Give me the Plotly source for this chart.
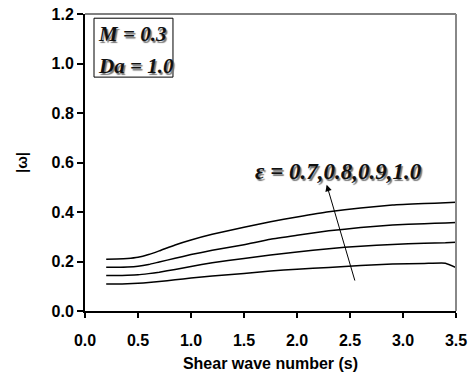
import plotly.graph_objects as go

x_vals = [0.2, 0.3, 0.4, 0.5, 0.6, 0.7, 0.85, 1.0, 1.2, 1.5, 1.75, 2.0, 2.3, 2.6, 2.9, 3.2, 3.4, 3.5]
eps_10 = [0.209, 0.210, 0.212, 0.217, 0.228, 0.243, 0.267, 0.287, 0.310, 0.338, 0.361, 0.380, 0.401, 0.416, 0.428, 0.434, 0.437, 0.439]
eps_09 = [0.177, 0.177, 0.178, 0.181, 0.188, 0.198, 0.213, 0.228, 0.245, 0.268, 0.290, 0.306, 0.324, 0.337, 0.347, 0.353, 0.356, 0.358]
eps_08 = [0.143, 0.143, 0.144, 0.146, 0.151, 0.157, 0.168, 0.180, 0.195, 0.212, 0.226, 0.238, 0.252, 0.262, 0.269, 0.274, 0.276, 0.278]
eps_07 = [0.109, 0.109, 0.110, 0.112, 0.115, 0.119, 0.126, 0.133, 0.141, 0.152, 0.162, 0.169, 0.176, 0.184, 0.190, 0.192, 0.193, 0.175]

x_ticks = [0.0, 0.5, 1.0, 1.5, 2.0, 2.5, 3.0, 3.5]
y_ticks = [0.0, 0.2, 0.4, 0.6, 0.8, 1.0, 1.2]

fig = go.Figure()
for s in [eps_07, eps_08, eps_09, eps_10]:
    fig.add_trace(go.Scatter(x=x_vals, y=s, mode="lines",
                             line=dict(color="black", width=1.5, shape="spline", smoothing=0.4),
                             showlegend=False))

afont = dict(family="Liberation Serif", size=21, color="#111", weight="bold", style="italic",
             shadow="1.5px 1.5px 1px #777")

# parameter box
fig.add_shape(type="rect", xref="x", yref="y", x0=0.085, x1=0.83, y0=0.945, y1=1.183,
              line=dict(color="black", width=1), fillcolor="white")
fig.add_annotation(x=0.1, y=1.12, xref="x", yref="y", xanchor="left", yanchor="middle",
                   text="<i>M</i> = 0.3", showarrow=False, font=afont)
fig.add_annotation(x=0.1, y=0.99, xref="x", yref="y", xanchor="left", yanchor="middle",
                   text="<i>Da</i> = 1.0", showarrow=False, font=afont)

fig.add_annotation(x=2.39, y=0.563, xref="x", yref="y", text="ε = 0.7,0.8,0.9,1.0", showarrow=False,
                   font=dict(afont, size=23))
fig.add_annotation(x=2.28, y=0.51, ax=2.55, ay=0.117, xref="x", yref="y", axref="x", ayref="y",
                   text="", showarrow=True, arrowhead=2, arrowsize=1.3, arrowwidth=1, arrowcolor="black")

tickfont = dict(family="Liberation Sans", size=16, color="black", weight="bold")
fig.update_xaxes(range=[0, 3.5], tickvals=x_ticks, ticktext=[f"{v:.1f}" for v in x_ticks],
                 ticks="outside", ticklen=5, tickwidth=1.5, tickcolor="black", showline=True, linecolor="black",
                 linewidth=2, mirror=False, showgrid=False, zeroline=False, tickfont=tickfont,
                 ticklabelstandoff=9, automargin=False,
                 title=dict(text="Shear wave number (s)", font=tickfont, standoff=10))
fig.update_yaxes(range=[0, 1.2], tickvals=y_ticks, ticktext=[f"{v:.1f}" for v in y_ticks],
                 ticks="outside", ticklen=6, tickwidth=1.5, tickcolor="black", showline=True, linecolor="black",
                 linewidth=2, showgrid=False, zeroline=False, tickfont=tickfont, automargin=False,
                 title=dict(text="|ω|", font=dict(tickfont, size=15), standoff=20))
fig.add_shape(type="line", xref="paper", yref="paper", x0=0, x1=1, y0=1, y1=1, line=dict(color="black", width=1))
fig.add_shape(type="line", xref="paper", yref="paper", x0=1, x1=1, y0=0, y1=1, line=dict(color="#888", width=2))

fig.update_layout(width=472, height=378, margin=dict(l=85, r=16, t=14, b=67),
                  plot_bgcolor="white", paper_bgcolor="white")
fig.write_html("out.html")
